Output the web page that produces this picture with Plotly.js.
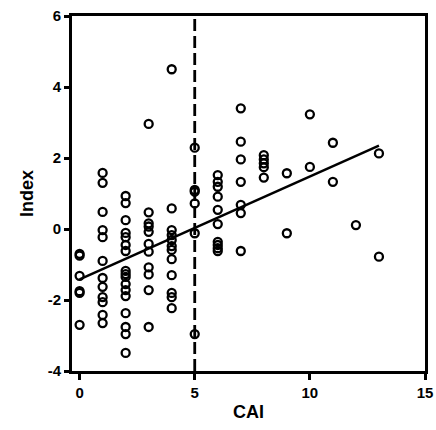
<!DOCTYPE html>
<html>
<head>
<meta charset="utf-8">
<script src="https://cdn.plot.ly/plotly-3.0.1.min.js"></script>
<style>html,body{margin:0;padding:0;background:#fff}#chart{width:436px;height:430px}</style>
</head>
<body>
<div id="chart"></div>
<script>
// CAI value for each group of points, and Index values
const caiLevels = [0, 1, 2, 3, 4, 5, 6, 7, 8, 9, 10, 11, 12, 13];
const indexByCai = [
  [-0.7, -0.75, -1.32, -1.75, -1.8, -2.7],
  [1.58, 1.3, 0.48, -0.03, -0.23, -0.9, -1.38, -1.63, -1.92, -2.06, -2.42, -2.65],
  [0.93, 0.73, 0.25, -0.11, -0.23, -0.45, -0.62, -1.18, -1.27, -1.35, -1.55, -1.72, -1.89, -2.37, -2.76, -2.96, -3.49],
  [2.96, 0.47, 0.16, 0.07, -0.08, -0.42, -0.64, -1.08, -1.28, -1.72, -2.76],
  [4.5, 0.58, -0.03, -0.17, -0.31, -0.48, -0.59, -0.85, -1.3, -1.8, -1.92, -2.23],
  [2.29, 1.1, 1.05, 0.72, -0.12, -2.96],
  [1.52, 1.33, 1.19, 0.91, 0.54, 0.14, -0.36, -0.45, -0.54, -0.62],
  [3.4, 2.46, 1.96, 1.33, 0.68, 0.45, -0.62],
  [2.08, 1.96, 1.85, 1.74, 1.45],
  [1.57, -0.12],
  [3.23, 1.75],
  [2.43, 1.33],
  [0.11],
  [2.13, -0.78]
];
// Regression line end points
const fitX = [0, 13];
const fitY = [-1.42, 2.35];
// Cut-off line
const cutoffX = 5;
const xTicks = [0, 5, 10, 15];
const yTicks = [-4, -2, 0, 2, 4, 6];

const px = [], py = [];
caiLevels.forEach((c, i) => indexByCai[i].forEach(v => { px.push(c); py.push(v); }));

const font = {family: 'Arial, "Liberation Sans", sans-serif', color: '#000', weight: 'bold'};

const traces = [
  {x: px, y: py, type: 'scatter', mode: 'markers',
   marker: {symbol: 'circle-open', size: 8, color: '#000', line: {width: 2.3, color: '#000'}},
   hoverinfo: 'none', cliponaxis: false},
  {x: fitX, y: fitY, type: 'scatter', mode: 'lines',
   line: {color: '#000', width: 2.5}, hoverinfo: 'none'},
  {x: [cutoffX, cutoffX], y: [yTicks[0], yTicks[yTicks.length - 1]], type: 'scatter', mode: 'lines',
   line: {color: '#000', width: 2.8, dash: '12px,5px'}, hoverinfo: 'none'}
];

const layout = {
  width: 436, height: 430,
  margin: {l: 72, r: 11, t: 16, b: 59},
  paper_bgcolor: '#fff', plot_bgcolor: '#fff',
  showlegend: false,
  font: font,
  xaxis: {
    range: [-0.33, 15], tickvals: xTicks, ticktext: xTicks.map(String),
    showgrid: false, zeroline: false, showline: true, linecolor: '#000', linewidth: 3,
    mirror: true, ticks: 'outside', ticklen: 6, tickwidth: 3, tickcolor: '#000',
    tickfont: Object.assign({}, font, {size: 15}),
    title: {text: 'CAI', font: Object.assign({}, font, {size: 18}), standoff: 6}
  },
  yaxis: {
    range: [-4, 6], tickvals: yTicks, ticktext: yTicks.map(String),
    showgrid: false, zeroline: false, showline: true, linecolor: '#000', linewidth: 3,
    mirror: true, ticks: 'outside', ticklen: 5, tickwidth: 3, tickcolor: '#000',
    tickfont: Object.assign({}, font, {size: 15}),
    title: {text: 'Index', font: Object.assign({}, font, {size: 18}), standoff: 10}
  }
};

Plotly.newPlot('chart', traces, layout, {staticPlot: true, displayModeBar: false});
</script>
</body>
</html>
